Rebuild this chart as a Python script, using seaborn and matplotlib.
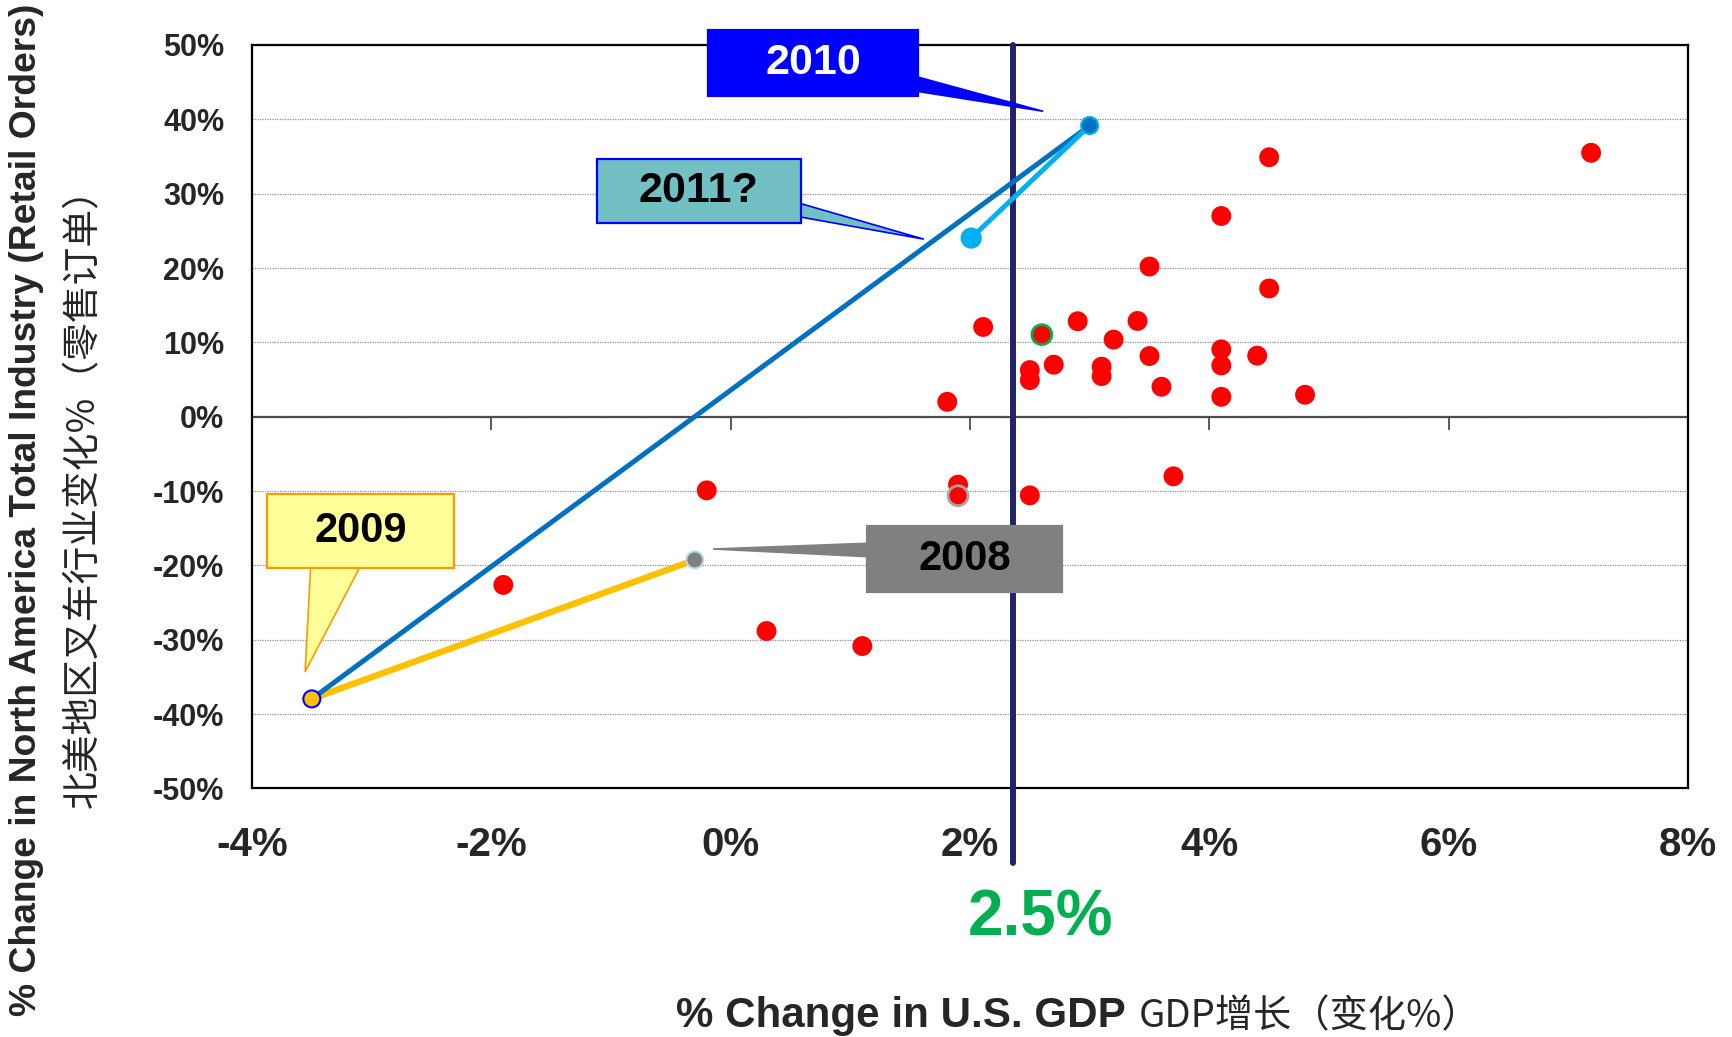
import matplotlib
matplotlib.use("Agg")
import matplotlib.pyplot as plt
import seaborn as sns
from matplotlib.path import Path
from matplotlib.ticker import PercentFormatter, MultipleLocator

# yearly points: % change in US GDP vs % change in NA forklift retail orders
gdp_change = [7.19, 4.50, 4.10, 3.50, 4.50, 2.11, 1.81, 2.60, 2.90, 3.40, 3.20,
              3.50, 4.10, 4.10, 4.40, 2.70, 2.50, 2.50, 3.10, 3.10, 3.60, 4.10,
              4.80, 3.70, 1.90, 1.90, 2.50, -0.20, -1.90, 0.30, 1.10]
orders_change = [35.5, 34.9, 27.0, 20.2, 17.25, 12.07, 2.0, 11.04, 12.84, 12.88, 10.37,
                 8.16, 9.06, 6.90, 8.21, 7.0, 6.27, 4.92, 6.73, 5.46, 4.03, 2.68,
                 2.95, -8.02, -9.14, -10.63, -10.58, -9.91, -22.63, -28.83, -30.85]

# recent years, joined as a path
traj_years = ["2008", "2009", "2010", "2011?"]
traj_gdp = [-0.30, -3.50, 3.00, 2.01]
traj_orders = [-19.26, -37.96, 39.17, 24.03]

gdp_threshold = 2.36
threshold_label = "2.5%"
x_ticks = [-4, -2, 0, 2, 4, 6, 8]
y_ticks = [-50, -40, -30, -20, -10, 0, 10, 20, 30, 40, 50]

sns.set_style("white")
plt.rcParams["font.family"] = ["Liberation Sans", "Noto Sans CJK SC", "DejaVu Sans"]
plt.rcParams["axes.unicode_minus"] = False
cjk = ["Noto Sans CJK SC", "DejaVu Sans"]

W, H = 1733, 1037
fig = plt.figure(figsize=(W / 100, H / 100), dpi=100)
ax = fig.add_axes([252 / W, 1 - 788.4 / H, (1688 - 252) / W, (788.4 - 45) / H])

ax.set_xlim(x_ticks[0], x_ticks[-1])
ax.set_ylim(y_ticks[0], y_ticks[-1])
ax.xaxis.set_major_locator(MultipleLocator(2))
ax.yaxis.set_major_locator(MultipleLocator(10))
ax.xaxis.set_major_formatter(PercentFormatter(100, decimals=0))
ax.yaxis.set_major_formatter(PercentFormatter(100, decimals=0))
ax.tick_params(axis="x", length=0, pad=27, labelsize=29)
ax.tick_params(axis="y", length=0, pad=20, labelsize=22)
for lbl in ax.get_xticklabels() + ax.get_yticklabels():
    lbl.set_fontweight("bold")

ax.yaxis.grid(True, linestyle=(0, (1, 1)), color="#8c8c8c", lw=0.9)
for sp in ax.spines.values():
    sp.set_color("black")
    sp.set_linewidth(1.6)

# zero line with its own little tick marks
ax.axhline(0, color="#4d4d4d", lw=1.6, zorder=2)
ax.vlines(x_ticks[1:-1], -1.75, 0, color="#4d4d4d", lw=1.3, zorder=2)

# threshold line, runs past the bottom of the plot
ax.plot([gdp_threshold, gdp_threshold], [-60, 50], color="#22226b", lw=4.3,
        clip_on=False, zorder=3)

# red dots
outline = {7: "#00B050", 25: "#a6a6a6"}
edges = [outline.get(i, "none") for i in range(len(gdp_change))]
sns.scatterplot(x=gdp_change, y=orders_change, color="#ff0000", s=205,
                edgecolor=edges, linewidth=2, ax=ax, zorder=4)

# path 2008 -> 2009 -> 2010 -> 2011
seg_colors = ["#FFC000", "#0070C0", "#00B0F0"]
seg_widths = [4.6, 3.6, 3.6]
for i, c in enumerate(seg_colors):
    sns.lineplot(x=traj_gdp[i:i + 2], y=traj_orders[i:i + 2], sort=False,
                 color=c, lw=seg_widths[i], ax=ax, zorder=5)

pt_face = {"2008": "#808080", "2009": "#FFC000", "2010": "#0070C0", "2011?": "#00B0F0"}
pt_edge = ["#B7DEE8", "#0000FF", "#00B0F0", "#00B0F0"]
sns.scatterplot(x=traj_gdp, y=traj_orders, hue=traj_years, palette=pt_face,
                s=[150, 150, 150, 190], edgecolor=pt_edge, linewidth=1.5,
                legend=False, ax=ax, zorder=6)


def fixed_box(w, h):
    def style(x0, y0, width, height, mutation_size):
        cx, cy = x0 + width / 2, y0 + height / 2
        return Path([(cx - w / 2, cy - h / 2), (cx + w / 2, cy - h / 2),
                     (cx + w / 2, cy + h / 2), (cx - w / 2, cy + h / 2),
                     (cx - w / 2, cy - h / 2)], closed=True)
    return style


# callouts: label, tip, box centre, box size, colours, text size, wedge anchor/width
callouts = [
    ("2010", (2.607, 41.1), (0.688, 47.6), (210, 66), "#0000FF", "#0000FF", "white", 31, (0.96, 0.29), 0.52),
    ("2011?", (1.61, 23.9), (-0.266, 30.4), (204, 64), "#72BFC4", "#0000FF", "black", 31, (0.96, 0.28), 0.45),
    ("2009", (-3.556, -34.3), (-3.093, -15.4), (187, 74), "#FFFF99", "#FF9900", "black", 30, (0.27, 0.1), 1.4),
    ("2008", (-0.142, -17.8), (1.955, -19.1), (195, 66), "#808080", "#808080", "black", 30, (0.04, 0.71), 0.45),
]
for text, tip, centre, size, fc, ec, tc, fs, rel, tw in callouts:
    ax.annotate(text, xy=tip, xytext=centre, ha="center", va="center",
                fontsize=fs, fontweight="bold", color=tc,
                bbox=dict(boxstyle=fixed_box(*size), fc=fc, ec=ec, lw=1.6),
                arrowprops=dict(arrowstyle=f"wedge,tail_width={tw}", fc=fc, ec=ec,
                                lw=1.2, relpos=rel, shrinkA=0, shrinkB=0,
                                patchA=None, mutation_scale=29),
                annotation_clip=False, zorder=10)

# labels
fig.text(1041 / W, 1 - 918 / H, threshold_label, color="#00B050", fontsize=46,
         fontweight="bold", ha="center", va="center")
fig.text(1126 / W, 1 - 1027 / H, "% Change in U.S. GDP", fontsize=30.3,
         fontweight="bold", ha="right", va="baseline")
fig.text(1139 / W, 1 - 1027 / H, "GDP增长（变化%）", fontsize=27.5, family=cjk,
         ha="left", va="baseline")
fig.text(27 / W, 1 - 510 / H, "% Change in North America Total Industry (Retail Orders)",
         fontsize=26.8, fontweight="bold", rotation=90, ha="center", va="center")
fig.text(83 / W, 1 - 489 / H, "北美地区叉车行业变化%（零售订单）", fontsize=27.2,
         family=cjk, rotation=90, ha="center", va="center")

fig.savefig("out.png", dpi=100)
